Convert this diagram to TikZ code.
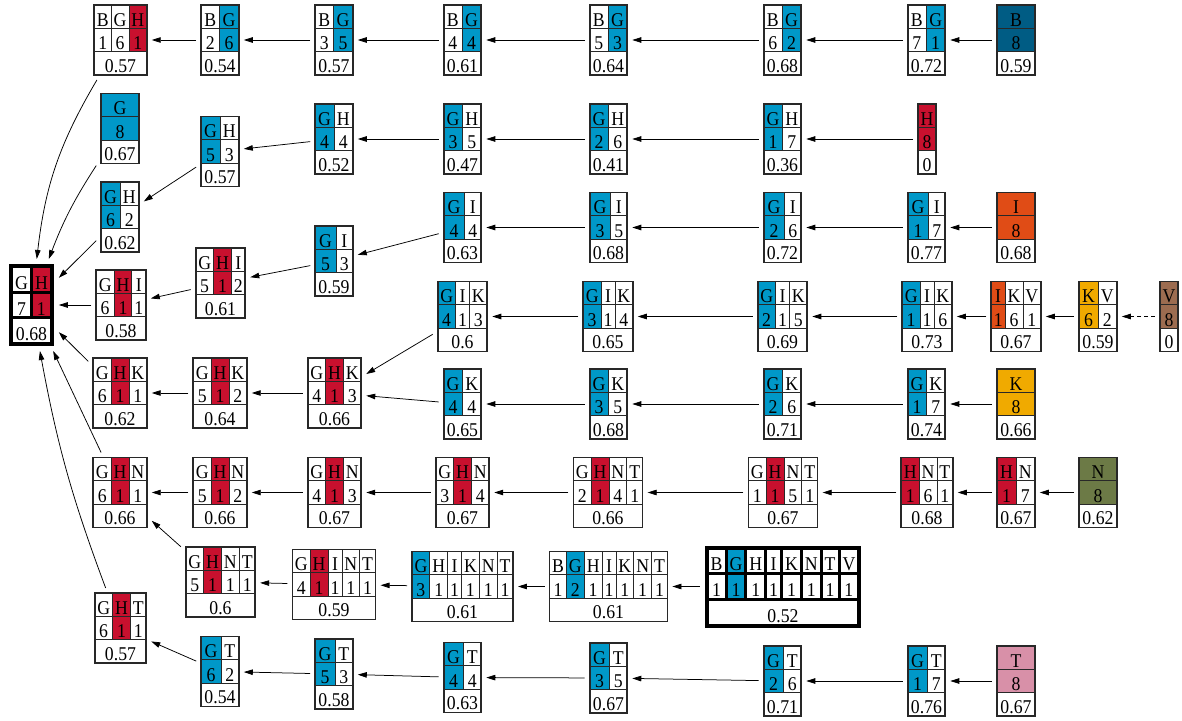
\documentclass[tikz,border=0pt]{standalone}
\usepackage{fontspec}
\setmainfont{Liberation Serif}
\newfontfamily\tblfam[FakeStretch=0.91]{Liberation Serif}
\usetikzlibrary{arrows.meta}
\definecolor{cG}{RGB}{0,152,200}
\definecolor{cH}{RGB}{200,16,46}
\definecolor{cB}{RGB}{0,92,132}
\definecolor{cI}{RGB}{224,76,22}
\definecolor{cK}{RGB}{240,170,0}
\definecolor{cV}{RGB}{156,108,80}
\definecolor{cN}{RGB}{108,122,70}
\definecolor{cT}{RGB}{216,144,168}
\colorlet{w}{white}
\definecolor{bd}{RGB}{40,40,40}
\newdimen\tlA \newdimen\tlB \newdimen\tlW \newdimen\tlE \newdimen\tlX \newdimen\tlS
\newcount\tlN
\def\tfont{\tblfam\fontsize{19.5}{19.5}\selectfont}
\newcommand\twset[1]{\settowidth\tlA{\tfont #1}\expandafter\xdef\csname tw@#1\endcsname{\the\tlA}}
\AtBeginDocument{\twset B\twset G\twset H\twset I\twset K\twset N\twset T\twset V%
  \twset 0\twset 1\twset 2\twset 3\twset 4\twset 5\twset 6\twset 7\twset 8\twset 9\twset .}
\def\swidth#1{\global\tlS=0pt \swloop#1\relax}
\def\swloop#1{\ifx\relax#1\else\global\advance\tlS by \csname tw@#1\endcsname\relax\expandafter\swloop\fi}
\tikzset{
  tnode/.style={draw=none, rectangle, inner sep=0pt, outer sep=5pt},
  cellline/.style={draw=bd, line width=0.8pt},
  tbord/.style={draw=bd, line width=1.6pt},
  ctext/.style={font=\tfont, inner sep=0pt, anchor=base},
  arr/.style={-{Triangle[length=9pt,width=5.5pt]}, line width=0.75pt},
}
\newcommand\colwidth[2]{%
  \tlA=\csname tw@#1\endcsname\relax \tlB=\csname tw@#2\endcsname\relax
  \ifdim\tlB>\tlA \tlA=\tlB\fi}
\newcommand\tmeasure[2]{%
  \global\tlW=0pt \global\tlN=0
  \foreach \L/\N/\C in {#1}{%
    \colwidth{\L}{\N}%
    \advance\tlA by #2\relax
    \global\advance\tlW by \tlA
    \global\advance\tlN by 1
  }%
}
\newcommand\gtable[5]{%
  \tmeasure{#4}{5pt}%
  \swidth{#5}\tlA=\tlS \advance\tlA by 6.5pt
  \ifdim\tlA>\tlW
    \tlB=\tlA \advance\tlB by -\tlW \divide\tlB by \tlN
    \global\tlE=\tlB \global\tlW=\tlA
  \else \global\tlE=0pt \fi
  \pgfmathsetmacro\tW{\tlW}%
  \pgfmathsetmacro\tLf{#2-0.5*\tW}%
  \pgfmathsetmacro\tTp{#3-35}%
  \node[tnode, minimum width=\tW pt, minimum height=70pt] (#1) at (#2,#3) {};
  \global\tlX=\tLf pt
  \foreach \L/\N/\C in {#4}{%
    \colwidth{\L}{\N}%
    \advance\tlA by 5pt \advance\tlA by \tlE
    \pgfmathsetmacro\tXa{\tlX}%
    \pgfmathsetmacro\tXb{\tlX+\tlA}%
    \pgfmathsetmacro\tXm{\tlX+0.5*\tlA}%
    \fill[fill=\C] (\tXa,\tTp) rectangle (\tXb,\tTp+46.7);
    \draw[cellline] (\tXa,\tTp) rectangle (\tXb,\tTp+23.3) (\tXa,\tTp+23.3) rectangle (\tXb,\tTp+46.7);
    \node[ctext] at (\tXm,\tTp+21.4) {\L};
    \node[ctext] at (\tXm,\tTp+44.8) {\N};
    \global\advance\tlX by \tlA
  }%
  \node[ctext] at (#2,\tTp+67.2) {#5};
  \draw[tbord] (\tLf,\tTp) rectangle ++(\tW,70);
}
\newcommand\gthick[5]{%
  \tmeasure{#4}{4pt}%
  \tlA=\tlW \advance\tlA by 5pt
  \tlB=3pt \multiply\tlB by \tlN \advance\tlA by \tlB
  \pgfmathsetmacro\tW{\tlA}%
  \pgfmathsetmacro\tLf{#2-0.5*\tW}%
  \pgfmathsetmacro\tTp{#3-41}%
  \node[tnode, minimum width=\tW pt, minimum height=82pt] (#1) at (#2,#3) {};
  \fill[black] (\tLf,\tTp) rectangle ++(\tW,82);
  \global\tlX=\tLf pt \global\advance\tlX by 4pt
  \foreach \L/\N/\C in {#4}{%
    \colwidth{\L}{\N}%
    \advance\tlA by 4pt
    \pgfmathsetmacro\tXa{\tlX}%
    \pgfmathsetmacro\tXb{\tlX+\tlA}%
    \pgfmathsetmacro\tXm{\tlX+0.5*\tlA}%
    \fill[fill=\C] (\tXa,\tTp+4) rectangle (\tXb,\tTp+26.7);
    \fill[fill=\C] (\tXa,\tTp+29.7) rectangle (\tXb,\tTp+52.4);
    \node[ctext] at (\tXm,\tTp+25.4) {\L};
    \node[ctext] at (\tXm,\tTp+51.1) {\N};
    \global\advance\tlX by \tlA \global\advance\tlX by 3pt
  }%
  \fill[white] (\tLf+4,\tTp+55.4) rectangle (\tLf+\tW-4,\tTp+78);
  \node[ctext] at (#2,\tTp+76.7) {#5};
}
\begin{document}
\begin{tikzpicture}[x=1pt,y=-1pt]
\useasboundingbox (0,0) rectangle (1182,720);
% row 1
\gtable{bgh161}{120.5}{40}{B/1/w,G/6/w,H/1/cH}{0.57}
\gtable{bg26}{220}{40}{B/2/w,G/6/cG}{0.54}
\gtable{bg35}{334}{40}{B/3/w,G/5/cG}{0.57}
\gtable{bg44}{462.5}{40}{B/4/w,G/4/cG}{0.61}
\gtable{bg53}{608.5}{40}{B/5/w,G/3/cG}{0.64}
\gtable{bg62}{782.5}{40}{B/6/w,G/2/cG}{0.68}
\gtable{bg71}{926.5}{40}{B/7/w,G/1/cG}{0.72}
\gtable{b8}{1016}{40}{B/8/cB}{0.59}
% row 2
\gtable{g8}{120}{128.5}{G/8/cG}{0.67}
\gtable{gh53}{220}{151.5}{G/5/cG,H/3/w}{0.57}
\gtable{gh44}{334}{139}{G/4/cG,H/4/w}{0.52}
\gtable{gh35}{462.5}{139}{G/3/cG,H/5/w}{0.47}
\gtable{gh26}{608.5}{139}{G/2/cG,H/6/w}{0.41}
\gtable{gh17}{782.5}{139}{G/1/cG,H/7/w}{0.36}
\gtable{h8}{927}{139}{H/8/cH}{0}
% row 3
\gtable{gh62}{120}{217}{G/6/cG,H/2/w}{0.62}
\gtable{gi53}{334}{261}{G/5/cG,I/3/w}{0.59}
\gtable{gi44}{462.5}{227.5}{G/4/cG,I/4/w}{0.63}
\gtable{gi35}{608.5}{227.5}{G/3/cG,I/5/w}{0.68}
\gtable{gi26}{782.5}{227.5}{G/2/cG,I/6/w}{0.72}
\gtable{gi17}{926.5}{227.5}{G/1/cG,I/7/w}{0.77}
\gtable{i8}{1016}{227.5}{I/8/cI}{0.68}
% row 4
\gthick{gh71}{31.5}{305}{G/7/w,H/1/cH}{0.68}
\gtable{ghi611}{121}{305}{G/6/w,H/1/cH,I/1/w}{0.58}
\gtable{ghi512}{220.5}{283}{G/5/w,H/1/cH,I/2/w}{0.61}
\gtable{gik413}{462.5}{316.5}{G/4/cG,I/1/w,K/3/w}{0.6}
\gtable{gik314}{608}{316.5}{G/3/cG,I/1/w,K/4/w}{0.65}
\gtable{gik215}{782.5}{316.5}{G/2/cG,I/1/w,K/5/w}{0.69}
\gtable{gik116}{927}{316.5}{G/1/cG,I/1/w,K/6/w}{0.73}
\gtable{ikv161}{1016}{316.5}{I/1/cI,K/6/w,V/1/w}{0.67}
\gtable{kv62}{1098}{316.5}{K/6/cK,V/2/w}{0.59}
\gtable{v80}{1169}{316.5}{V/8/cV}{0}
% row 5
\gtable{ghk611}{120}{393}{G/6/w,H/1/cH,K/1/w}{0.62}
\gtable{ghk512}{220}{393}{G/5/w,H/1/cH,K/2/w}{0.64}
\gtable{ghk413}{334.5}{393}{G/4/w,H/1/cH,K/3/w}{0.66}
\gtable{gk44}{462.5}{404}{G/4/cG,K/4/w}{0.65}
\gtable{gk35}{608.5}{404}{G/3/cG,K/5/w}{0.68}
\gtable{gk26}{782.5}{404}{G/2/cG,K/6/w}{0.71}
\gtable{gk17}{926.5}{404}{G/1/cG,K/7/w}{0.74}
\gtable{k8}{1016}{404}{K/8/cK}{0.66}
% row 6
\gtable{ghn611}{120}{492.5}{G/6/w,H/1/cH,N/1/w}{0.66}
\gtable{ghn512}{220}{492.5}{G/5/w,H/1/cH,N/2/w}{0.66}
\gtable{ghn413}{334.5}{492.5}{G/4/w,H/1/cH,N/3/w}{0.67}
\gtable{ghn314}{462.5}{492.5}{G/3/w,H/1/cH,N/4/w}{0.67}
\gtable{ghnt2141}{608}{492.5}{G/2/w,H/1/cH,N/4/w,T/1/w}{0.66}
\gtable{ghnt1151}{783}{492.5}{G/1/w,H/1/cH,N/5/w,T/1/w}{0.67}
\gtable{hnt161}{927}{492.5}{H/1/cH,N/6/w,T/1/w}{0.68}
\gtable{hn17}{1016}{492.5}{H/1/cH,N/7/w}{0.67}
\gtable{n8}{1098}{492.5}{N/8/cN}{0.62}
% row 7
\gtable{ghnt5111}{220.5}{582}{G/5/w,H/1/cH,N/1/w,T/1/w}{0.6}
\gtable{ghint}{334}{584.5}{G/4/w,H/1/cH,I/1/w,N/1/w,T/1/w}{0.59}
\gtable{ghiknt}{462.5}{586.5}{G/3/cG,H/1/w,I/1/w,K/1/w,N/1/w,T/1/w}{0.61}
\gtable{bghiknt}{608.5}{586.5}{B/1/w,G/2/cG,H/1/w,I/1/w,K/1/w,N/1/w,T/1/w}{0.61}
\gthick{bghikntv}{783}{586.5}{B/1/w,G/1/cG,H/1/w,I/1/w,K/1/w,N/1/w,T/1/w,V/1/w}{0.52}
% row 8
\gtable{ght611}{120.5}{628}{G/6/w,H/1/cH,T/1/w}{0.57}
\gtable{gt62}{220}{671.5}{G/6/cG,T/2/w}{0.54}
\gtable{gt53}{334}{674}{G/5/cG,T/3/w}{0.58}
\gtable{gt44}{462.5}{677.5}{G/4/cG,T/4/w}{0.63}
\gtable{gt35}{608.5}{678}{G/3/cG,T/5/w}{0.67}
\gtable{gt26}{782.5}{681}{G/2/cG,T/6/w}{0.71}
\gtable{gt17}{926.5}{681}{G/1/cG,T/7/w}{0.76}
\gtable{t8}{1016}{681}{T/8/cT}{0.67}
% edges
\draw[arr] (b8) -- (bg71);
\draw[arr] (bg71) -- (bg62);
\draw[arr] (bg62) -- (bg53);
\draw[arr] (bg53) -- (bg44);
\draw[arr] (bg44) -- (bg35);
\draw[arr] (bg35) -- (bg26);
\draw[arr] (bg26) -- (bgh161);
\draw[arr] (bgh161) to[bend right=12] (gh71);
\draw[arr] (h8) -- (gh17);
\draw[arr] (gh17) -- (gh26);
\draw[arr] (gh26) -- (gh35);
\draw[arr] (gh35) -- (gh44);
\draw[arr] (gh44) -- (gh53);
\draw[arr] (gh53) -- (gh62);
\draw[arr] (gh62) -- (gh71);
\draw[arr] (g8) to[bend right=6] (gh71);
\draw[arr] (i8) -- (gi17);
\draw[arr] (gi17) -- (gi26);
\draw[arr] (gi26) -- (gi35);
\draw[arr] (gi35) -- (gi44);
\draw[arr] (gi44) -- (gi53);
\draw[arr] (gi53) -- (ghi512);
\draw[arr] (ghi512) -- (ghi611);
\draw[arr] (ghi611) -- (gh71);
\draw[arr, dash pattern=on 4pt off 3pt] (v80) -- (kv62);
\draw[arr] (kv62) -- (ikv161);
\draw[arr] (ikv161) -- (gik116);
\draw[arr] (gik116) -- (gik215);
\draw[arr] (gik215) -- (gik314);
\draw[arr] (gik314) -- (gik413);
\draw[arr] (gik413) -- (ghk413);
\draw[arr] (k8) -- (gk17);
\draw[arr] (gk17) -- (gk26);
\draw[arr] (gk26) -- (gk35);
\draw[arr] (gk35) -- (gk44);
\draw[arr] (gk44) -- (ghk413);
\draw[arr] (ghk413) -- (ghk512);
\draw[arr] (ghk512) -- (ghk611);
\draw[arr] (ghk611) -- (gh71);
\draw[arr] (n8) -- (hn17);
\draw[arr] (hn17) -- (hnt161);
\draw[arr] (hnt161) -- (ghnt1151);
\draw[arr] (ghnt1151) -- (ghnt2141);
\draw[arr] (ghnt2141) -- (ghn314);
\draw[arr] (ghn314) -- (ghn413);
\draw[arr] (ghn413) -- (ghn512);
\draw[arr] (ghn512) -- (ghn611);
\draw[arr] (ghn611) -- (gh71);
\draw[arr] (bghikntv) -- (bghiknt);
\draw[arr] (bghiknt) -- (ghiknt);
\draw[arr] (ghiknt) -- (ghint);
\draw[arr] (ghint) -- (ghnt5111);
\draw[arr] (ghnt5111) -- (ghn611);
\draw[arr] (t8) -- (gt17);
\draw[arr] (gt17) -- (gt26);
\draw[arr] (gt26) -- (gt35);
\draw[arr] (gt35) -- (gt44);
\draw[arr] (gt44) -- (gt53);
\draw[arr] (gt53) -- (gt62);
\draw[arr] (gt62) -- (ght611);
\draw[arr] (ght611) to[bend left=5] (gh71);
\end{tikzpicture}
\end{document}
